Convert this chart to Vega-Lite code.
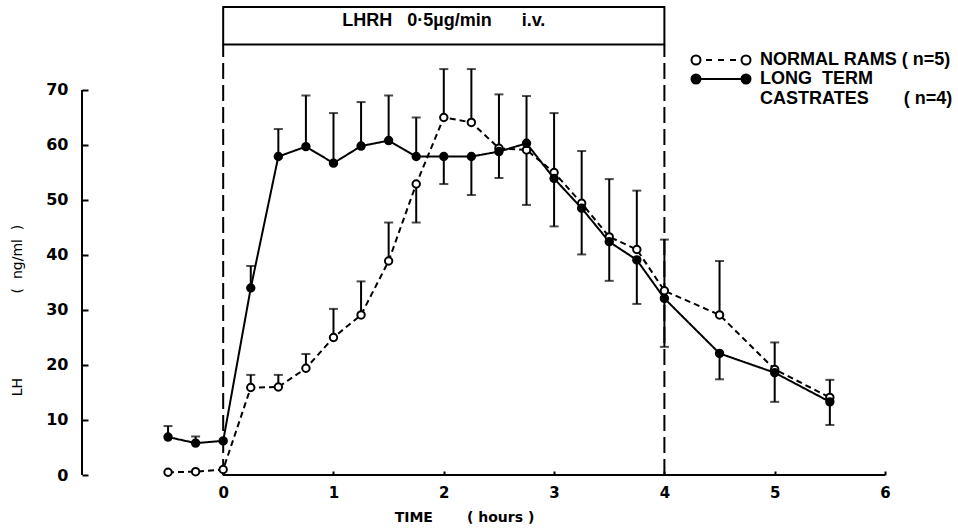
{
  "$schema": "https://vega.github.io/schema/vega-lite/v6.json",
  "width": 803,
  "height": 470,
  "autosize": "none",
  "padding": {"left": 82, "top": 5, "right": 73, "bottom": 54},
  "background": "white",
  "config": {"view": {"stroke": null}},
  "datasets": {
    "lh": [
      {"time": -0.5, "group": "NORMAL RAMS ( n=5)", "lh": 0.5, "err": null},
      {"time": -0.25, "group": "NORMAL RAMS ( n=5)", "lh": 0.6, "err": null},
      {"time": 0, "group": "NORMAL RAMS ( n=5)", "lh": 1.0, "err": null},
      {"time": 0.25, "group": "NORMAL RAMS ( n=5)", "lh": 15.9, "err": 18.2},
      {"time": 0.5, "group": "NORMAL RAMS ( n=5)", "lh": 16.0, "err": 18.2},
      {"time": 0.75, "group": "NORMAL RAMS ( n=5)", "lh": 19.4, "err": 22.0},
      {"time": 1.0, "group": "NORMAL RAMS ( n=5)", "lh": 25.0, "err": 30.2},
      {"time": 1.25, "group": "NORMAL RAMS ( n=5)", "lh": 29.1, "err": 35.2},
      {"time": 1.5, "group": "NORMAL RAMS ( n=5)", "lh": 38.9, "err": 45.9},
      {"time": 1.75, "group": "NORMAL RAMS ( n=5)", "lh": 52.9, "err": 45.9},
      {"time": 2.0, "group": "NORMAL RAMS ( n=5)", "lh": 65.0, "err": 73.8},
      {"time": 2.25, "group": "NORMAL RAMS ( n=5)", "lh": 64.1, "err": 73.8},
      {"time": 2.5, "group": "NORMAL RAMS ( n=5)", "lh": 59.4, "err": 69.2},
      {"time": 2.75, "group": "NORMAL RAMS ( n=5)", "lh": 59.1, "err": 68.9},
      {"time": 3.0, "group": "NORMAL RAMS ( n=5)", "lh": 55.0, "err": 65.8},
      {"time": 3.25, "group": "NORMAL RAMS ( n=5)", "lh": 49.4, "err": 58.9},
      {"time": 3.5, "group": "NORMAL RAMS ( n=5)", "lh": 43.3, "err": 53.8},
      {"time": 3.75, "group": "NORMAL RAMS ( n=5)", "lh": 41.0, "err": 51.7},
      {"time": 4.0, "group": "NORMAL RAMS ( n=5)", "lh": 33.5, "err": 42.8},
      {"time": 4.5, "group": "NORMAL RAMS ( n=5)", "lh": 29.1, "err": 38.9},
      {"time": 5.0, "group": "NORMAL RAMS ( n=5)", "lh": 19.2, "err": 24.1},
      {"time": 5.5, "group": "NORMAL RAMS ( n=5)", "lh": 14.1, "err": 17.3},
      {"time": -0.5, "group": "LONG TERM CASTRATES ( n=4)", "lh": 6.9, "err": 8.9},
      {"time": -0.25, "group": "LONG TERM CASTRATES ( n=4)", "lh": 5.8, "err": 7.0},
      {"time": 0, "group": "LONG TERM CASTRATES ( n=4)", "lh": 6.2, "err": null},
      {"time": 0.25, "group": "LONG TERM CASTRATES ( n=4)", "lh": 34.0, "err": 38.0},
      {"time": 0.5, "group": "LONG TERM CASTRATES ( n=4)", "lh": 57.9, "err": 62.9},
      {"time": 0.75, "group": "LONG TERM CASTRATES ( n=4)", "lh": 59.7, "err": 69.0},
      {"time": 1.0, "group": "LONG TERM CASTRATES ( n=4)", "lh": 56.7, "err": 65.8},
      {"time": 1.25, "group": "LONG TERM CASTRATES ( n=4)", "lh": 59.8, "err": 67.8},
      {"time": 1.5, "group": "LONG TERM CASTRATES ( n=4)", "lh": 60.8, "err": 69.0},
      {"time": 1.75, "group": "LONG TERM CASTRATES ( n=4)", "lh": 57.9, "err": 65.0},
      {"time": 2.0, "group": "LONG TERM CASTRATES ( n=4)", "lh": 57.9, "err": 52.9},
      {"time": 2.25, "group": "LONG TERM CASTRATES ( n=4)", "lh": 57.9, "err": 50.9},
      {"time": 2.5, "group": "LONG TERM CASTRATES ( n=4)", "lh": 58.8, "err": 54.0},
      {"time": 2.75, "group": "LONG TERM CASTRATES ( n=4)", "lh": 60.3, "err": 49.1},
      {"time": 3.0, "group": "LONG TERM CASTRATES ( n=4)", "lh": 53.9, "err": 45.2},
      {"time": 3.25, "group": "LONG TERM CASTRATES ( n=4)", "lh": 48.5, "err": 40.1},
      {"time": 3.5, "group": "LONG TERM CASTRATES ( n=4)", "lh": 42.4, "err": 35.3},
      {"time": 3.75, "group": "LONG TERM CASTRATES ( n=4)", "lh": 39.1, "err": 31.1},
      {"time": 4.0, "group": "LONG TERM CASTRATES ( n=4)", "lh": 32.1, "err": 23.3},
      {"time": 4.5, "group": "LONG TERM CASTRATES ( n=4)", "lh": 22.1, "err": 17.4},
      {"time": 5.0, "group": "LONG TERM CASTRATES ( n=4)", "lh": 18.6, "err": 13.3},
      {"time": 5.5, "group": "LONG TERM CASTRATES ( n=4)", "lh": 13.3, "err": 9.1}
    ],
    "infusion": [
      {"start": 0, "end": 4, "mid": 2, "label": "LHRH\u00a0\u00a0\u00a00·5µg/min\u00a0\u00a0\u00a0\u00a0\u00a0\u00a0i.v."}
    ]
  },
  "layer": [
    {
      "data": {"name": "lh"},
      "mark": {"type": "rule", "stroke": "black", "strokeWidth": 2},
      "transform": [{"filter": "isValid(datum.err)"}],
      "encoding": {
        "x": {"field": "time", "type": "quantitative",
          "scale": {"domain": [-1.28, 6], "nice": false, "zero": false},
          "axis": {
            "values": [0, 1, 2, 3, 4, 5, 6], "format": "d",
            "domain": false, "grid": false,
            "tickSize": -4, "tickWidth": 2, "tickColor": "black",
            "labelFont": "DejaVu Sans", "labelFontSize": 15, "labelFontWeight": "bold",
            "labelColor": "black", "labelPadding": 14, "labelFlush": false, "labelOverlap": false,
            "title": "TIME\u00a0\u00a0\u00a0\u00a0\u00a0\u00a0\u00a0(\u00a0hours\u00a0)",
            "titleFont": "DejaVu Sans", "titleFontSize": 14, "titleFontWeight": "bold",
            "titleColor": "black", "titleX": 382, "titleY": 42,
            "titleAlign": "center", "titleBaseline": "middle"
          }},
        "y": {"field": "lh", "type": "quantitative",
          "scale": {"domain": [0, 85.45], "nice": false, "zero": false},
          "axis": {
            "values": [0, 10, 20, 30, 40, 50, 60, 70], "format": "d",
            "domain": false, "grid": false,
            "tickSize": -6, "tickWidth": 2, "tickColor": "black",
            "labelFont": "DejaVu Sans", "labelFontSize": 16, "labelFontWeight": "bold",
            "labelColor": "black", "labelPadding": 20, "labelFlush": false, "labelOverlap": false,
            "title": "LH\u00a0\u00a0\u00a0\u00a0\u00a0\u00a0\u00a0\u00a0\u00a0\u00a0\u00a0\u00a0\u00a0\u00a0\u00a0\u00a0\u00a0\u00a0\u00a0(\u00a0\u00a0ng/ml\u00a0\u00a0)",
            "titleFont": "DejaVu Sans", "titleFontSize": 14, "titleFontWeight": "normal",
            "titleColor": "black", "titleX": -65, "titleY": 305, "titleAngle": -90,
            "titleAlign": "center", "titleBaseline": "middle"
          }},
        "y2": {"field": "err"}
      }
    },
    {
      "data": {"name": "lh"},
      "mark": {"type": "tick", "orient": "horizontal", "color": "black", "size": 9, "thickness": 2},
      "transform": [{"filter": "isValid(datum.err)"}],
      "encoding": {
        "x": {"field": "time", "type": "quantitative"},
        "y": {"field": "err", "type": "quantitative"}
      }
    },
    {
      "data": {"name": "infusion"},
      "mark": {"type": "rect", "fill": "white", "fillOpacity": 0, "stroke": "black", "strokeWidth": 2},
      "encoding": {
        "x": {"field": "start", "type": "quantitative"},
        "x2": {"field": "end"},
        "y": {"datum": 78.25, "type": "quantitative"},
        "y2": {"datum": 85.1}
      }
    },
    {
      "data": {"name": "infusion"},
      "mark": {"type": "rule", "stroke": "black", "strokeWidth": 2, "strokeDash": [16, 6]},
      "encoding": {
        "x": {"field": "start", "type": "quantitative"},
        "y": {"datum": 0, "type": "quantitative"},
        "y2": {"datum": 78.25}
      }
    },
    {
      "data": {"name": "infusion"},
      "mark": {"type": "rule", "stroke": "black", "strokeWidth": 2, "strokeDash": [16, 6]},
      "encoding": {
        "x": {"field": "end", "type": "quantitative"},
        "y": {"datum": 0, "type": "quantitative"},
        "y2": {"datum": 78.25}
      }
    },
    {
      "data": {"name": "infusion"},
      "mark": {"type": "text", "font": "Liberation Sans", "fontSize": 18, "fontWeight": "bold", "color": "black", "align": "center", "baseline": "middle"},
      "encoding": {
        "x": {"field": "mid", "type": "quantitative"},
        "y": {"datum": 82.6, "type": "quantitative"},
        "text": {"field": "label"}
      }
    },
    {
      "data": {"name": "infusion"},
      "mark": {"type": "rule", "stroke": "black", "strokeWidth": 2},
      "encoding": {
        "x": {"datum": 0, "type": "quantitative"},
        "x2": {"datum": 6},
        "y": {"datum": 0, "type": "quantitative"}
      }
    },
    {
      "data": {"name": "infusion"},
      "mark": {"type": "rule", "stroke": "black", "strokeWidth": 2},
      "encoding": {
        "x": {"datum": -1.28, "type": "quantitative"},
        "y": {"datum": 0, "type": "quantitative"},
        "y2": {"datum": 70}
      }
    },
    {
      "data": {"name": "lh"},
      "mark": {"type": "line", "stroke": "black", "strokeWidth": 2},
      "encoding": {
        "x": {"field": "time", "type": "quantitative"},
        "y": {"field": "lh", "type": "quantitative"},
        "detail": {"field": "group"},
        "strokeDash": {"field": "group", "type": "nominal",
          "scale": {"domain": ["LONG TERM CASTRATES ( n=4)", "NORMAL RAMS ( n=5)"], "range": [[1, 0], [6, 4]]},
          "legend": null}
      }
    },
    {
      "data": {"name": "lh"},
      "mark": {"type": "point", "filled": true, "size": 55, "stroke": "black", "strokeWidth": 2, "opacity": 1},
      "encoding": {
        "x": {"field": "time", "type": "quantitative"},
        "y": {"field": "lh", "type": "quantitative"},
        "fill": {"field": "group", "type": "nominal",
          "scale": {"domain": ["NORMAL RAMS ( n=5)", "LONG TERM CASTRATES ( n=4)"], "range": ["white", "black"]},
          "legend": {
            "title": null,
            "orient": "none",
            "legendX": 629,
            "legendY": 45,
            "padding": 0,
            "symbolSize": 324,
            "symbolStrokeWidth": 2,
            "symbolStrokeColor": "black",
            "symbolType": {"expr": "datum.value == 'NORMAL RAMS ( n=5)' ? 'M-2.278,0A0.5,0.5,0,1,1,-3.278,0A0.5,0.5,0,1,1,-2.278,0Z M3.278,0A0.5,0.5,0,1,1,2.278,0A0.5,0.5,0,1,1,3.278,0Z M-1.667,0L-1,0 M-0.333,0L0.333,0 M1,0L1.667,0' : 'M-2.278,0A0.5,0.5,0,1,1,-3.278,0A0.5,0.5,0,1,1,-2.278,0Z M3.278,0A0.5,0.5,0,1,1,2.278,0A0.5,0.5,0,1,1,3.278,0Z M-2.278,0L2.278,0'"},
            "labelFont": "Liberation Sans",
            "labelFontSize": 18,
            "labelFontWeight": "bold",
            "labelColor": "black",
            "labelBaseline": "middle",
            "labelOffset": 29,
            "labelLimit": 400,
            "rowPadding": -14,
            "labelExpr": "datum.value == 'NORMAL RAMS ( n=5)' ? 'NORMAL RAMS ( n=5)' : ['LONG\u00a0\u00a0TERM', 'CASTRATES\u00a0\u00a0\u00a0\u00a0\u00a0\u00a0\u00a0( n=4)']"
          }}
      }
    }
  ]
}
